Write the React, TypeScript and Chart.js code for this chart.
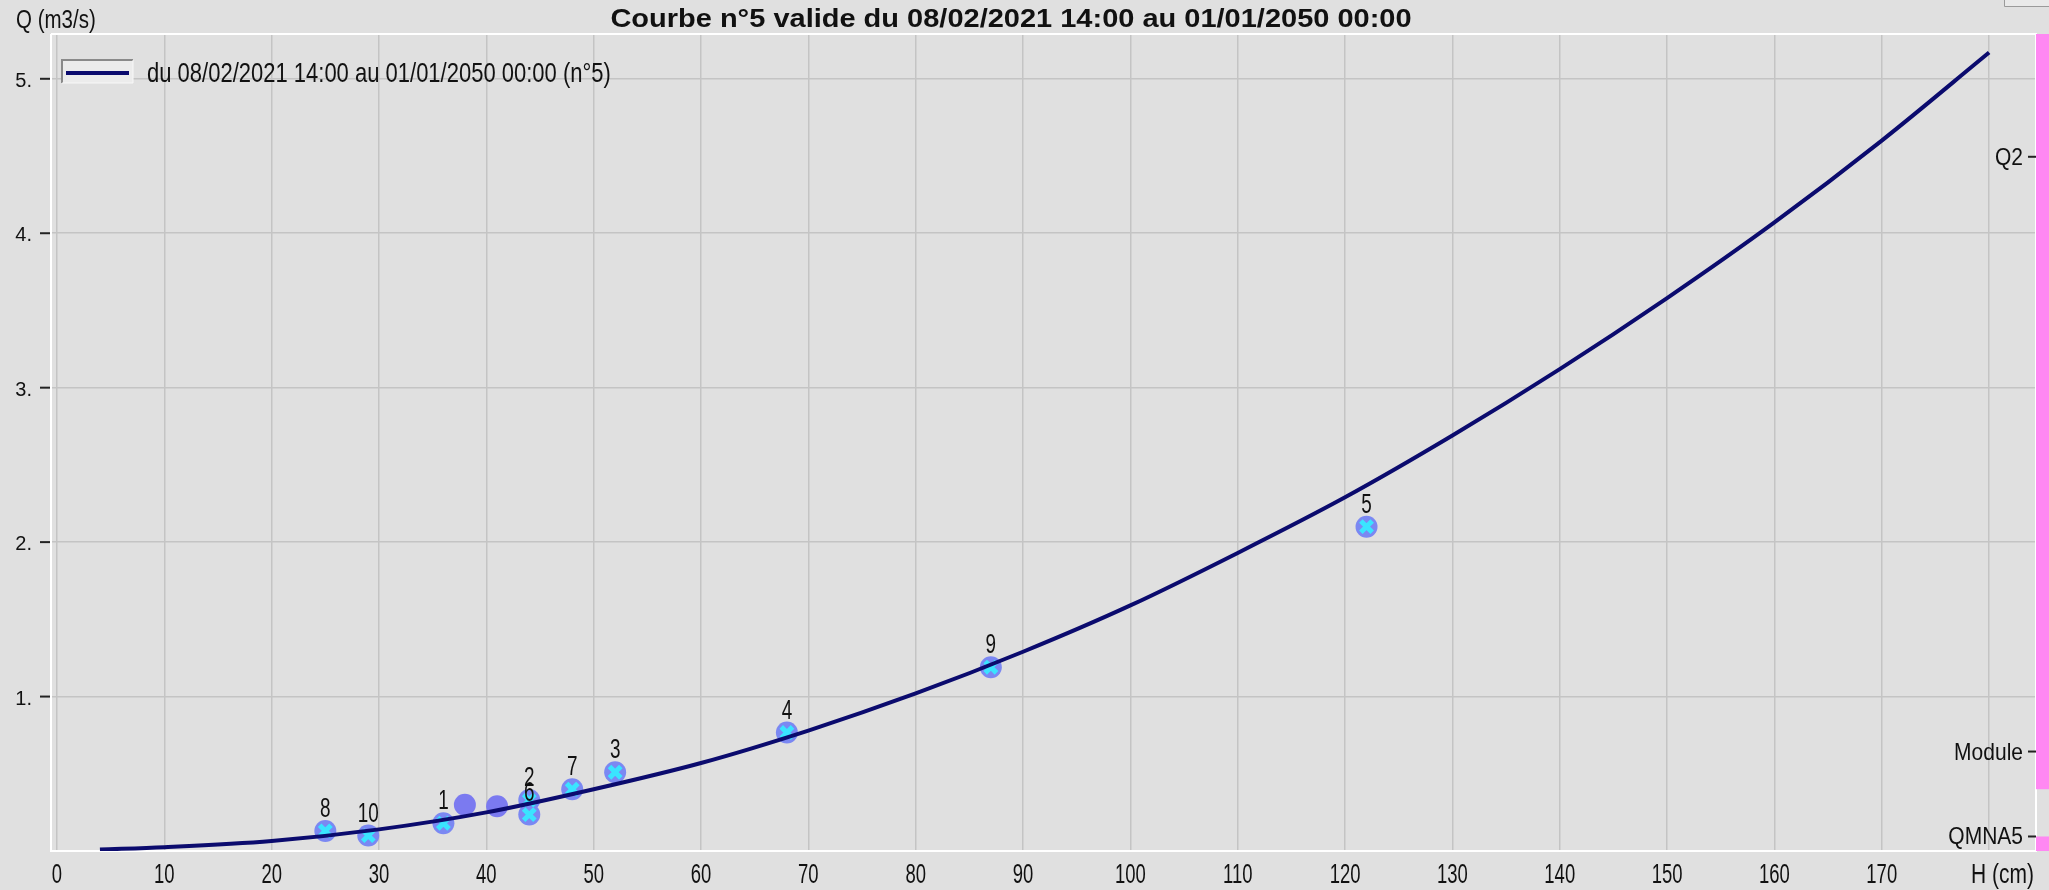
import React, { useEffect, useRef } from "react";
import { Chart, registerables } from "chart.js";

Chart.register(...registerables);

// ---- Text ----
const TITLE = "Courbe n°5 valide du 08/02/2021 14:00 au 01/01/2050 00:00";
const LEGEND_LABEL = "du 08/02/2021 14:00 au 01/01/2050 00:00 (n°5)";
const Y_TITLE = "Q (m3/s)";
const X_TITLE = "H (cm)";

// ---- Rating curve (H in cm, Q in m3/s) ----
const curveH = [4, 10, 20, 30, 40, 50, 60, 70, 80, 90, 100, 110, 120, 130, 140, 150, 160, 170, 180];
const curveQ = [0.01, 0.025, 0.065, 0.14, 0.25, 0.4, 0.57, 0.78, 1.02, 1.29, 1.59, 1.93, 2.29, 2.69, 3.12, 3.58, 4.07, 4.6, 5.17];

// ---- Gaugings (numbered) ----
const gaugingLabels = ["8", "10", "1", "2", "6", "7", "3", "4", "9", "5"];
const gaugingH = [25, 29, 36, 44, 44, 48, 52, 68, 87, 122];
const gaugingQ = [0.13, 0.1, 0.18, 0.33, 0.236, 0.4, 0.51, 0.767, 1.19, 2.1];

// ---- Other measurements (unnumbered) ----
const otherH = [38, 41];
const otherQ = [0.3, 0.29];

// ---- Axes ----
const xTickValues = [0, 10, 20, 30, 40, 50, 60, 70, 80, 90, 100, 110, 120, 130, 140, 150, 160, 170];
const yTickValues = [1, 2, 3, 4, 5];
const yTickLabels = ["1.", "2.", "3.", "4.", "5."];
const X_MIN = -0.558;
const X_MAX = 184.37;
const Y_MIN = 0;
const Y_MAX = 5.29;

// ---- Reference discharges (right side) ----
const refNames = ["Q2", "Module", "QMNA5"];
const refQ = [4.495, 0.644, 0.094];

// ---- Pink bands on the right edge ----
const bandFrom = [0, 0.4];
const bandTo = [0.094, 5.29];

const FONT = '"Liberation Sans", Arial, sans-serif';
const NAVY = "#0b0b6e";

function txt(
  ctx: CanvasRenderingContext2D,
  s: string,
  x: number,
  y: number,
  size: number,
  o: { bold?: boolean; sx?: number; sy?: number; align?: CanvasTextAlign; color?: string } = {}
) {
  ctx.save();
  ctx.translate(x, y);
  ctx.scale(o.sx ?? 1, o.sy ?? 1);
  ctx.font = `${o.bold ? "bold " : ""}${size}px ${FONT}`;
  ctx.textAlign = o.align ?? "left";
  ctx.textBaseline = "alphabetic";
  ctx.fillStyle = o.color ?? "#111111";
  ctx.fillText(s, 0, 0);
  ctx.restore();
}

const decorPlugin = {
  id: "decor",
  beforeDraw(chart: any) {
    const ctx = chart.ctx as CanvasRenderingContext2D;
    ctx.save();
    ctx.fillStyle = "#e0e0e0";
    ctx.fillRect(0, 0, chart.width, chart.height);
    ctx.restore();
  },
  beforeDatasetsDraw(chart: any) {
    const ctx = chart.ctx as CanvasRenderingContext2D;
    const a = chart.chartArea;
    ctx.save();
    ctx.strokeStyle = "#ffffff";
    ctx.lineWidth = 2;
    ctx.beginPath();
    ctx.moveTo(a.left, a.top);
    ctx.lineTo(a.left, a.bottom);
    ctx.lineTo(a.right, a.bottom);
    ctx.lineTo(a.right, a.top);
    ctx.lineTo(a.left, a.top);
    ctx.stroke();
    ctx.restore();
  },
  afterDraw(chart: any) {
    const ctx = chart.ctx as CanvasRenderingContext2D;
    const a = chart.chartArea;
    const xs = chart.scales.x;
    const ys = chart.scales.y;
    const SMALL = 21;
    const SY = 1.22;

    // Title
    txt(ctx, TITLE, 1011, 27, 26, { bold: true, sx: 1.115, align: "center" });

    // Y title
    txt(ctx, Y_TITLE, 16, 28, 20.5, { sy: SY });

    // X tick labels
    xTickValues.forEach((v) => {
      txt(ctx, String(v), xs.getPixelForValue(v), 883, SMALL, { sx: 0.88, sy: 1.32, align: "center" });
    });
    txt(ctx, X_TITLE, a.right - 2, 883, SMALL, { sy: 1.3, align: "right" });

    // Y tick labels + dashes
    ctx.save();
    ctx.strokeStyle = "#222222";
    ctx.lineWidth = 2;
    yTickValues.forEach((v, i) => {
      const py = ys.getPixelForValue(v);
      txt(ctx, yTickLabels[i], 32, py + 8, 20, { sy: 1.05, align: "right" });
      ctx.beginPath();
      ctx.moveTo(40, py);
      ctx.lineTo(50, py);
      ctx.stroke();
    });
    ctx.restore();

    // Pink bands
    ctx.save();
    ctx.fillStyle = "#ff88f2";
    bandFrom.forEach((f, i) => {
      const y1 = ys.getPixelForValue(bandTo[i]);
      const y2 = ys.getPixelForValue(f);
      ctx.fillRect(a.right, y1, chart.width - a.right, y2 - y1);
    });
    ctx.restore();

    // Right reference labels
    ctx.save();
    ctx.strokeStyle = "#222222";
    ctx.lineWidth = 2;
    refNames.forEach((n, i) => {
      const py = ys.getPixelForValue(refQ[i]);
      txt(ctx, n, 2023, py + 8, SMALL, { sy: 1.15, align: "right" });
      ctx.beginPath();
      ctx.moveTo(2028, py);
      ctx.lineTo(a.right, py);
      ctx.stroke();
    });
    ctx.restore();

    // Point labels
    gaugingLabels.forEach((l, i) => {
      const px = xs.getPixelForValue(gaugingH[i]);
      const py = ys.getPixelForValue(gaugingQ[i]);
      txt(ctx, l, px, py - 14, SMALL, { sx: 0.9, sy: 1.3, align: "center" });
    });

    // Legend
    ctx.save();
    ctx.fillStyle = "#ececec";
    ctx.fillRect(62, 59, 71, 24);
    ctx.strokeStyle = "#8a8a8a";
    ctx.lineWidth = 2;
    ctx.beginPath();
    ctx.moveTo(62, 83);
    ctx.lineTo(62, 60);
    ctx.lineTo(133, 60);
    ctx.stroke();
    ctx.strokeStyle = "#f8f8f8";
    ctx.lineWidth = 1;
    ctx.beginPath();
    ctx.moveTo(133, 60);
    ctx.lineTo(133, 83);
    ctx.lineTo(62, 83);
    ctx.stroke();
    ctx.strokeStyle = NAVY;
    ctx.lineWidth = 4;
    ctx.beginPath();
    ctx.moveTo(66, 73);
    ctx.lineTo(129, 73);
    ctx.stroke();
    ctx.restore();
    txt(ctx, LEGEND_LABEL, 147, 82, 22, { sy: SY });

    // small control at top-right corner
    ctx.save();
    ctx.fillStyle = "#e9e9e9";
    ctx.fillRect(2004, 0, 45, 6);
    ctx.strokeStyle = "#9a9a9a";
    ctx.lineWidth = 1;
    ctx.beginPath();
    ctx.moveTo(2004.5, 0);
    ctx.lineTo(2004.5, 6.5);
    ctx.lineTo(2049, 6.5);
    ctx.stroke();
    ctx.restore();
  },
};

export default function App() {
  const ref = useRef<HTMLCanvasElement>(null);

  useEffect(() => {
    const canvas = ref.current;
    if (!canvas) return;
    const chart = new Chart(canvas, {
      type: "scatter",
      data: {
        datasets: [
          {
            label: LEGEND_LABEL,
            data: curveH.map((h, i) => ({ x: h, y: curveQ[i] })),
            showLine: true,
            borderColor: NAVY,
            backgroundColor: NAVY,
            borderWidth: 4,
            pointRadius: 0,
            cubicInterpolationMode: "monotone",
            order: 1,
          } as any,
          {
            label: "x",
            data: gaugingH.map((h, i) => ({ x: h, y: gaugingQ[i] })),
            pointStyle: "crossRot",
            pointRadius: 8,
            borderColor: "#3ae4ff",
            backgroundColor: "#3ae4ff",
            borderWidth: 5,
            order: 2,
          } as any,
          {
            label: "gaugings",
            data: gaugingH.map((h, i) => ({ x: h, y: gaugingQ[i] })),
            pointStyle: "circle",
            pointRadius: 11,
            backgroundColor: "#7b88f2",
            borderWidth: 0,
            order: 3,
          } as any,
          {
            label: "others",
            data: otherH.map((h, i) => ({ x: h, y: otherQ[i] })),
            pointStyle: "circle",
            pointRadius: 11,
            backgroundColor: "#7b7af0",
            borderWidth: 0,
            order: 3,
          } as any,
        ],
      },
      options: {
        responsive: false,
        animation: false,
        events: [],
        layout: { padding: { left: 51, right: 9, top: 34, bottom: 39 } },
        plugins: {
          legend: { display: false },
          title: { display: false },
          tooltip: { enabled: false },
        },
        scales: {
          x: {
            type: "linear",
            min: X_MIN,
            max: X_MAX,
            ticks: { display: false, stepSize: 10, includeBounds: false },
            grid: { color: "#c4c4c4", lineWidth: 1.5, drawTicks: false },
            border: { display: false },
            afterFit: (s: any) => {
              s.height = 0;
            },
          },
          y: {
            type: "linear",
            min: Y_MIN,
            max: Y_MAX,
            ticks: { display: false, stepSize: 1, includeBounds: false },
            grid: {
              color: (c: any) => (c.tick && c.tick.value === 0 ? "rgba(0,0,0,0)" : "#c4c4c4"),
              lineWidth: 1.5,
              drawTicks: false,
            },
            border: { display: false },
            afterFit: (s: any) => {
              s.width = 0;
            },
          },
        },
      } as any,
      plugins: [decorPlugin],
    });
    return () => chart.destroy();
  }, []);

  return (
    <div style={{ position: "absolute", left: 0, top: 0, width: 2049, height: 890 }}>
      <canvas ref={ref} width={2049} height={890} style={{ display: "block", width: 2049, height: 890 }} />
    </div>
  );
}
